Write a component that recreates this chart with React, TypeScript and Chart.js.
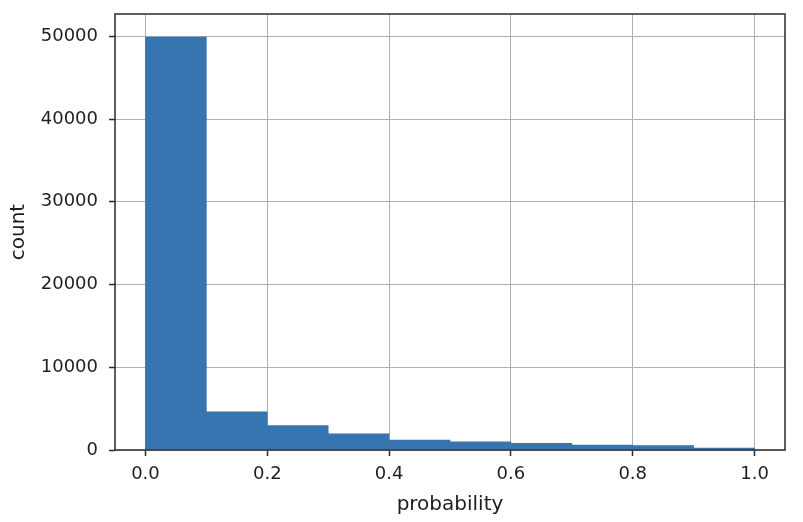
import React, { useEffect, useRef } from "react";
import { Chart, registerables } from "chart.js";

Chart.register(...registerables);

const binStarts = [0.0, 0.1, 0.2, 0.3, 0.4, 0.5, 0.6, 0.7, 0.8, 0.9];
const binWidth = 0.1;
const counts = [49900, 4600, 2950, 1950, 1200, 980, 800, 600, 520, 230];
const xTicks = [0.0, 0.2, 0.4, 0.6, 0.8, 1.0];
const yTicks = [0, 10000, 20000, 30000, 40000, 50000];
const xLabel = "probability";
const yLabel = "count";

const FONT = "'DejaVu Sans', sans-serif";

const framePlugin = {
  id: "frame",
  afterDraw(chart: any) {
    const { ctx, chartArea } = chart;
    ctx.save();
    ctx.strokeStyle = "#2a2a2a";
    ctx.lineWidth = 1.5;
    ctx.strokeRect(chartArea.left, chartArea.top, chartArea.right - chartArea.left, chartArea.bottom - chartArea.top);
    ctx.restore();
  },
};

export default function App() {
  const ref = useRef<HTMLCanvasElement>(null);
  useEffect(() => {
    if (!ref.current) return;
    const chart = new Chart(ref.current, {
      type: "bar",
      data: {
        datasets: [
          {
            data: binStarts.map((s, i) => ({ x: s + binWidth / 2, y: counts[i] })),
            backgroundColor: "#3775b0",
            borderWidth: 0,
            barPercentage: 1,
            categoryPercentage: 1,
          },
        ],
      },
      options: {
        animation: false,
        responsive: false,
        layout: { padding: { left: 0, right: 18, top: 14, bottom: 0 } },
        plugins: { legend: { display: false }, tooltip: { enabled: false } },
        scales: {
          x: {
            type: "linear",
            min: -0.05,
            max: 1.05,
            offset: false,
            z: 1,
            afterBuildTicks: (s: any) => {
              s.ticks = xTicks.map((v) => ({ value: v }));
            },
            afterFit: (s: any) => {
              s.height = 72;
              s.paddingLeft = 0;
              s.paddingRight = 0;
            },
            grid: { offset: false, color: "#b0b0b0", lineWidth: 1, tickColor: "#2a2a2a", tickLength: 6, tickWidth: 1.5 },
            border: { display: false },
            ticks: {
              color: "#1e1e1e",
              font: { family: FONT, size: 18 },
              padding: 8,
              maxRotation: 0,
              callback: (v: any) => Number(v).toFixed(1),
            },
            title: {
              display: true,
              text: xLabel,
              color: "#1e1e1e",
              font: { family: FONT, size: 20 },
              padding: { top: 0, bottom: 5 },
            },
          },
          y: {
            type: "linear",
            min: 0,
            max: 52700,
            z: 1,
            afterBuildTicks: (s: any) => {
              s.ticks = yTicks.map((v) => ({ value: v }));
            },
            afterFit: (s: any) => {
              s.width = 115;
              s.paddingTop = 0;
              s.paddingBottom = 0;
            },
            grid: { color: "#b0b0b0", lineWidth: 1, tickColor: "#2a2a2a", tickLength: 6, tickWidth: 1.5 },
            border: { display: false },
            ticks: {
              color: "#1e1e1e",
              font: { family: FONT, size: 18 },
              padding: 11,
              callback: (v: any) => String(v),
            },
            title: {
              display: true,
              text: yLabel,
              color: "#1e1e1e",
              font: { family: FONT, size: 20 },
              padding: { top: 7, bottom: 0 },
            },
          },
        },
      },
      plugins: [framePlugin],
    });
    return () => chart.destroy();
  }, []);
  return (
    <div style={{ position: "fixed", left: 0, top: 0, width: 803, height: 522, background: "#fff" }}>
      <canvas ref={ref} width={803} height={522} />
    </div>
  );
}
